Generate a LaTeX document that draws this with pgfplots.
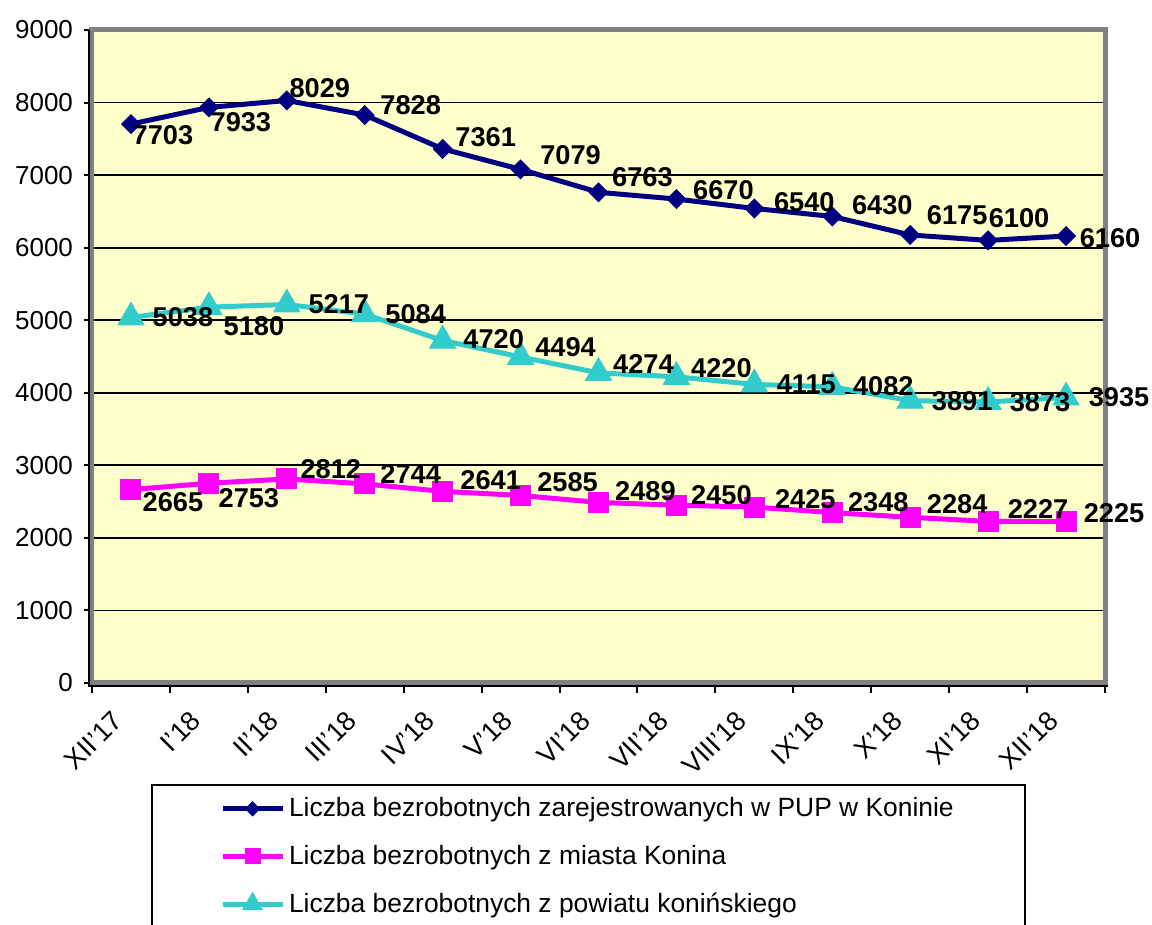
\documentclass[border=0pt]{standalone}
\usepackage{fontspec}
\setmainfont{Liberation Sans}
\usepackage{pgfplots}
\usepackage{pgfplotstable}
\pgfplotsset{compat=1.18}
\definecolor{cnavy}{HTML}{000080}
\definecolor{cmag}{HTML}{FF00FF}
\definecolor{ccyan}{HTML}{33CCCC}
\definecolor{bgyel}{HTML}{FFFFCC}
\definecolor{bordg}{HTML}{808080}

% x = month index, y = value, dx/dy = label offset in pt
\pgfplotstableread{
x y dx dy
0 7703 16 -5.5
1 7933 16 -7.5
2 8029 16.5 6
3 7828 23 5
4 7361 21.5 6
5 7079 25 7
6 6763 22 7.5
7 6670 23.5 4.5
8 6540 25 3
9 6430 25 5.5
10 6175 23.5 10
11 6100 15.5 11
12 6160 22 -1
}\pupdata

\pgfplotstableread{
x y dx dy
0 2665 21 -6.5
1 2753 20 -7.5
2 2812 22 5
3 2744 23 5
4 2641 24 5.5
5 2585 23.5 6.5
6 2489 23.5 5.5
7 2450 22.5 5
8 2425 25.5 4
9 2348 23 5
10 2284 23.5 6.5
11 2227 25 6
12 2225 24 4
}\miastodata

\pgfplotstableread{
x y dx dy
0 5038 26 0
1 5180 22.5 -9.5
2 5217 26 0
3 5084 25.5 0
4 4720 25.5 0.5
5 4494 22.5 5
6 4274 22.5 4.5
7 4220 22.5 4.5
8 4115 26 0
9 4082 25.5 0.5
10 3891 26 0
11 3873 26 0
12 3935 26.5 0
}\powiatdata

\begin{document}
\begin{tikzpicture}
\begin{axis}[
    scale only axis, width=506.5pt, height=326.5pt,
    xmin=-0.5, xmax=12.5, ymin=0, ymax=9000,
    clip=false,
    axis background/.style={fill=bgyel},
    axis line style={draw=bordg, line width=2.5pt},
    ytick={0,1000,...,9000},
    ymajorgrids, grid style={black, line width=0.9pt},
    xtick={0,...,12},
    xticklabels={XII'17,I'18,II'18,III'18,IV'18,V'18,VI'18,VII'18,VIII'18,IX'18,X'18,XI'18,XII'18},
    minor xtick={-0.5,0.5,...,12.5},
    xtick pos=left, ytick pos=left,
    tick align=outside,
    major tick length=4pt, minor tick length=5pt,
    major x tick style={draw=none},
    minor x tick style={black, line width=1pt},
    ytick style={black, line width=1pt},
    ticklabel style={font=\fontsize{13}{15}\selectfont},
    /pgf/number format/assume math mode=true,
    /pgf/number format/1000 sep={},
    scaled y ticks=false,
    yticklabel style={xshift=-2pt},
    xticklabel style={xshift=-4pt, yshift=-10pt, rotate=45, anchor=east,
        font=\fontsize{13.5}{15}\selectfont},
    legend style={at={(0.126,-0.169)}, anchor=north west, draw=none, fill=none,
        font=\fontsize{13.2}{15}\selectfont, row sep=8.7pt, inner sep=0pt},
    legend cell align=left,
    legend image code/.code={\draw[mark repeat=2,mark phase=2,#1,every mark/.append style={scale=0.75}]
        plot coordinates {(0pt,0pt)(15pt,0pt)(30pt,0pt)};},
  ]
  \pgfplotsset{
    lab/.style={
      forget plot, only marks, mark=*, mark options={opacity=0},
      nodes near coords,
      point meta=explicit symbolic,
      visualization depends on={\thisrow{dx}\as\dx},
      visualization depends on={\thisrow{dy}\as\dy},
      nodes near coords style={anchor=center, text=black, opacity=1,
          xshift=\dx pt, yshift=\dy pt,
          font=\bfseries\fontsize{13.6}{15}\selectfont},
    }
  }
  \addplot[cnavy, line width=2.5pt, mark=square*, mark size=3.3pt,
      mark options={rotate=45, line width=0.5pt, fill=cnavy}]
      table[x=x, y=y] {\pupdata};
  \addlegendentry{Liczba bezrobotnych zarejestrowanych w PUP w Koninie}
  \addplot[cmag, line width=2.5pt, mark=square*, mark size=5pt,
      mark options={line width=0.5pt, fill=cmag}]
      table[x=x, y=y] {\miastodata};
  \addlegendentry{Liczba bezrobotnych z miasta Konina}
  \addplot[ccyan, line width=2.5pt, mark=triangle*, mark size=7.5pt,
      mark options={line width=0.5pt, fill=ccyan}]
      table[x=x, y=y] {\powiatdata};
  \addlegendentry{Liczba bezrobotnych z powiatu konińskiego}
  % data labels on top of all lines and marks
  \addplot[lab] table[x=x, y=y, meta=y] {\pupdata};
  \addplot[lab] table[x=x, y=y, meta=y] {\miastodata};
  \addplot[lab] table[x=x, y=y, meta=y] {\powiatdata};
  % black axis lines at left and bottom, legend frame
  \draw[black, line width=1pt] ([xshift=-1.5pt]axis description cs:0,1)
      -- ([xshift=-1.5pt,yshift=-1.5pt]axis description cs:0,0)
      -- ([xshift=1.5pt,yshift=-1.5pt]axis description cs:1,0);
  \draw[black, line width=0.8pt] (axis description cs:0.0592,-0.1562)
      rectangle (axis description cs:0.921,-0.40);
\end{axis}
\pgfresetboundingbox
\path[use as bounding box] (-46pt,-121pt) rectangle (530pt,341.5pt);
\end{tikzpicture}
\end{document}
